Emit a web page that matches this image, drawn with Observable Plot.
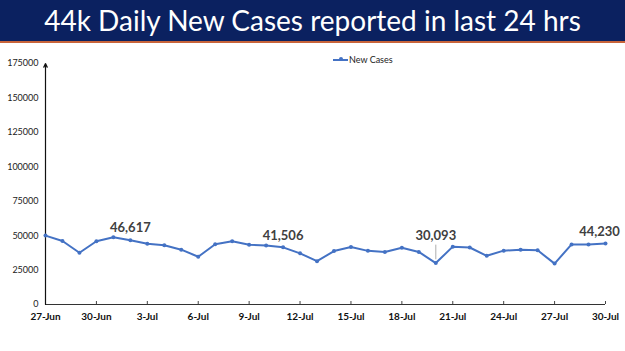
<!DOCTYPE html>
<html>
<head>
<meta charset="utf-8">
<script src="https://cdn.jsdelivr.net/npm/d3@7"></script>
<script src="https://cdn.jsdelivr.net/npm/@observablehq/plot@0.6"></script>
<style>
  body { margin:0; width:625px; height:351px; overflow:hidden; position:relative; background:#fff; font-family: Lato, "Open Sans", sans-serif; }
  #banner { height:41px; background:#0b2160; border-bottom:2px solid #c8643a; color:#fff; font-size:28px; text-align:center; line-height:41px; font-family: Lato, sans-serif; }
  #chart svg { display:block; }
  #legend { position:absolute; top:54px; left:333px; font-size:9px; color:#222; display:flex; align-items:center; font-family: Lato, sans-serif; }
  #legend .sw { width:15px; height:2px; background:#4472C4; position:relative; margin-right:1px; }
  #legend .sw::after { content:""; position:absolute; left:6px; top:-1.5px; width:4px; height:4px; border-radius:50%; background:#4472C4; }
</style>
</head>
<body>
<div id="banner">44k Daily New Cases reported in last 24 hrs</div>
<div id="chart"></div>
<div id="legend"><div class="sw"></div><span>New Cases</span></div>
<script>
const dates = ["27-Jun","28-Jun","29-Jun","30-Jun","1-Jul","2-Jul","3-Jul","4-Jul","5-Jul","6-Jul","7-Jul","8-Jul","9-Jul","10-Jul","11-Jul","12-Jul","13-Jul","14-Jul","15-Jul","16-Jul","17-Jul","18-Jul","19-Jul","20-Jul","21-Jul","22-Jul","23-Jul","24-Jul","25-Jul","26-Jul","27-Jul","28-Jul","29-Jul","30-Jul"];
const newCases = [50040,46148,37566,45951,48786,46617,44111,43071,39796,34703,43733,45892,43393,42766,41506,37154,31443,38792,41806,38949,38079,41157,38164,30093,42015,41383,35342,39097,39742,39361,29689,43654,43509,44230];
const xTicks = ["27-Jun","30-Jun","3-Jul","6-Jul","9-Jul","12-Jul","15-Jul","18-Jul","21-Jul","24-Jul","27-Jul","30-Jul"];
const yTicks = [0,25000,50000,75000,100000,125000,150000,175000];
const labelDates = ["2-Jul","11-Jul"];
const endLabelDates = ["30-Jul"];
const leaderDates = ["20-Jul"];

const data = dates.map((d,i) => ({date:d, value:newCases[i]}));
const labeled = data.filter(d => labelDates.includes(d.date));
const endLabeled = data.filter(d => endLabelDates.includes(d.date));
const leadered = data.filter(d => leaderDates.includes(d.date));
const fmt = d3.format(",");
const color = "#4472C4";
const labelStyle = {fontSize: 13, fontWeight: "bold", fill: "#404040"};

const chart = Plot.plot({
  width: 625,
  height: 308,
  marginTop: 20,
  marginBottom: 47,
  marginLeft: 45,
  marginRight: 20,
  style: {fontFamily: "Lato, sans-serif", background: "transparent"},
  x: {type: "point", domain: dates, padding: 0},
  y: {domain: [0, 175000]},
  marks: [
    Plot.axisY({ticks: yTicks, tickSize: 0, tickPadding: 7, tickFormat: d3.format("d"), fontSize: 9, color: "#222", label: null}),
    Plot.axisX({ticks: xTicks, tickSize: -3, text: null, label: null, stroke: "#444"}),
    Plot.axisX({ticks: xTicks, tickSize: 0, tickPadding: 8, fontSize: 10, fontWeight: "bold", color: "#111", label: null}),
    Plot.ruleY([0], {stroke: "#333", strokeWidth: 1.2}),
    Plot.arrow([{a: dates[0]}], {x1: "a", x2: "a", y1: () => 0, y2: () => yTicks[yTicks.length-1], stroke: "#111", strokeWidth: 1.2, headLength: 5, headAngle: 50}),
    Plot.line(data, {x: "date", y: "value", stroke: color, strokeWidth: 2}),
    Plot.dot(data, {x: "date", y: "value", r: 2, fill: color}),
    Plot.ruleX(leadered, {x: "date", y1: d => d.value + 2400, y2: d => d.value + 13000, stroke: "#999", strokeWidth: 0.8}),
    Plot.text(labeled, {x: "date", y: "value", text: d => fmt(d.value), dy: -12, ...labelStyle}),
    Plot.text(endLabeled, {x: "date", y: "value", text: d => fmt(d.value), dy: -12, dx: -6, ...labelStyle}),
    Plot.text(leadered, {x: "date", y: "value", text: d => fmt(d.value), dy: -27, ...labelStyle})
  ]
});
document.getElementById("chart").appendChild(chart);
</script>
</body>
</html>
